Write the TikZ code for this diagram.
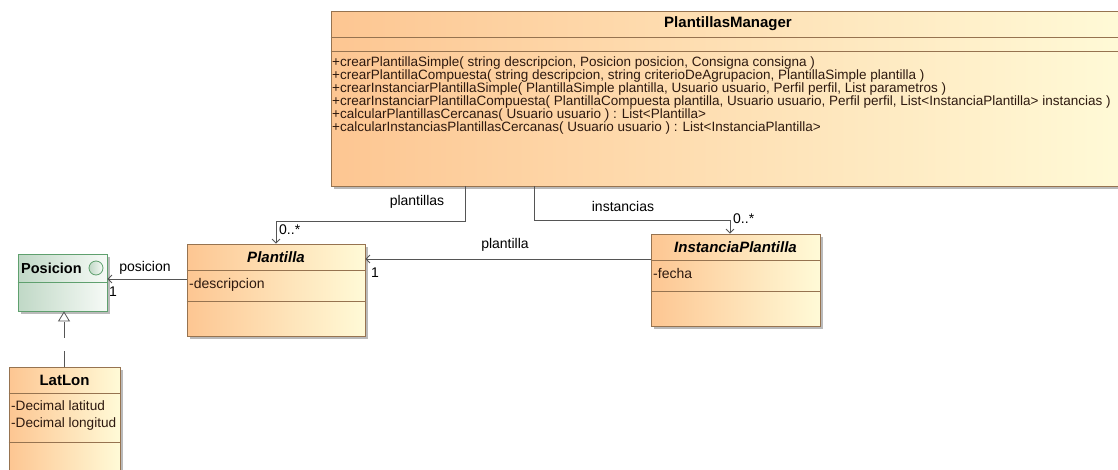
\documentclass[tikz,border=0pt]{standalone}
\usepackage{fontspec}
\setmainfont{Liberation Sans}
\usetikzlibrary{arrows.meta}
\usetikzlibrary{shadows}

\definecolor{clsorange}{RGB}{253,198,146}
\definecolor{clsyellow}{RGB}{255,250,215}
\definecolor{clsborder}{RGB}{150,115,80}
\definecolor{posgreen}{RGB}{192,216,198}
\definecolor{poslight}{RGB}{246,250,246}
\definecolor{posborder}{RGB}{95,160,110}
\definecolor{linegray}{RGB}{85,85,85}
\definecolor{clstext}{RGB}{45,25,15}

\begin{document}
\begin{tikzpicture}[x=1pt,y=-1pt,
        clsbox/.style={draw=clsborder, line width=0.8pt, left color=clsorange, right color=clsyellow,
            drop shadow={shadow xshift=3pt, shadow yshift=-3pt, fill=black!45, opacity=.6}, inner sep=0pt},
        posbox/.style={clsbox, draw=posborder, left color=posgreen, right color=poslight},
        sepline/.style={draw=clsborder, line width=0.8pt},
        clsname/.style={font=\fontsize{15}{16}\selectfont\bfseries, inner sep=0pt},
        member/.style={font=\fontsize{14}{17}\selectfont, text=clstext, anchor=west, inner sep=0pt, align=left},
        assoc/.style={draw=linegray, line width=0.8pt, -{Straight Barb[length=4pt,width=8pt]}},
        realize/.style={draw=linegray, line width=0.8pt, dash pattern=on 16pt off 13pt, -{Triangle[open,length=10pt,width=12pt,fill=white]}},
        role/.style={font=\fontsize{14}{15}\selectfont, inner sep=1pt}]
    \useasboundingbox (0,0) rectangle (1118,469);

    \node[clsbox, minimum width=794pt, minimum height=175pt] (manager) at (728,98.5) {};
    \draw[sepline] (manager.west |- 0,37) -- (manager.east |- 0,37);
    \draw[sepline] (manager.west |- 0,51) -- (manager.east |- 0,51);
    \node[clsname] (managername) at (728,24) {PlantillasManager};
    \node[member, anchor=north west, font=\fontsize{13.5}{12.9}\selectfont] (managerops) at (332,57) {%
        +crearPlantillaSimple( string descripcion, Posicion posicion, Consigna consigna )\\
        +crearPlantillaCompuesta( string descripcion, string criterioDeAgrupacion, PlantillaSimple plantilla )\\
        +crearInstanciarPlantillaSimple( PlantillaSimple plantilla, Usuario usuario, Perfil perfil, List parametros )\\
        +crearInstanciarPlantillaCompuesta( PlantillaCompuesta plantilla, Usuario usuario, Perfil perfil, List<InstanciaPlantilla> instancias )\\
        +calcularPlantillasCercanas( Usuario usuario ) : List<Plantilla>\\
        +calcularInstanciasPlantillasCercanas( Usuario usuario ) : List<InstanciaPlantilla>};

    \node[clsbox, minimum width=178pt, minimum height=92pt] (plantilla) at (276,290) {};
    \draw[sepline] (plantilla.west |- 0,270) -- (plantilla.east |- 0,270);
    \draw[sepline] (plantilla.west |- 0,301) -- (plantilla.east |- 0,301);
    \node[clsname, font=\fontsize{15}{16}\selectfont\bfseries\itshape] (plantillaname) at (276,257) {Plantilla};
    \node[member] (plantillaattr) at (189,285) {-descripcion};

    \node[clsbox, minimum width=169pt, minimum height=92pt] (instancia) at (735.5,280) {};
    \draw[sepline] (instancia.west |- 0,260) -- (instancia.east |- 0,260);
    \draw[sepline] (instancia.west |- 0,291) -- (instancia.east |- 0,291);
    \node[clsname, font=\fontsize{15}{16}\selectfont\bfseries\itshape] (instancianame) at (735.5,247) {InstanciaPlantilla};
    \node[member] (instanciaattr) at (653,273) {-fecha};

    \node[posbox, minimum width=89pt, minimum height=57pt] (posicion) at (62.5,282.5) {};
    \draw[sepline, draw=posborder] (posicion.west |- 0,282) -- (posicion.east |- 0,282);
    \node[clsname, anchor=west, font=\fontsize{14.5}{16}\selectfont\bfseries] (posicionname) at (21,268) {Posicion};
    \node[circle, draw=posborder, line width=0.8pt, left color=posgreen, right color=poslight, minimum size=14pt, inner sep=0pt] (posicionicon) at (96,268) {};

    \node[clsbox, minimum width=111pt, minimum height=120pt] (latlon) at (64.5,427) {};
    \draw[sepline] (latlon.west |- 0,393) -- (latlon.east |- 0,393);
    \draw[sepline] (latlon.west |- 0,442) -- (latlon.east |- 0,442);
    \node[clsname] (latlonname) at (64.5,380) {LatLon};
    \node[member, font=\fontsize{13.6}{17}\selectfont] (latlonattr) at (11,415.5) {-Decimal latitud\\-Decimal longitud};

    \draw[assoc] (manager.south -| 465,0) -- ++(0,35) -| (plantilla.north);
    \draw[assoc] (manager.south -| 534,0) -- ++(0,34) -| (instancia.north -| 730,0);
    \draw[assoc] (instancia.west |- 0,259) -- (plantilla.east |- 0,259);
    \draw[assoc] (plantilla.west |- 0,279) -- (posicion.east |- 0,279);
    \draw[realize] (latlon.north -| 64,0) -- (posicion.south -| 64,0);

    \node[role] (plantillaslabel) at (417,202) {plantillas};
    \node[role, anchor=west] (plantillasmult) at (278,230) {0..*};
    \node[role] (instanciaslabel) at (623,206) {instancias};
    \node[role, anchor=west] (instanciasmult) at (732,219) {0..*};
    \node[role] (plantillalabel) at (505,245) {plantilla};
    \node[role, anchor=west] (plantillamult) at (370,273) {1};
    \node[role] (posicionlabel) at (145,268) {posicion};
    \node[role, anchor=west] (posicionmult) at (108,292) {1};
\end{tikzpicture}
\end{document}
